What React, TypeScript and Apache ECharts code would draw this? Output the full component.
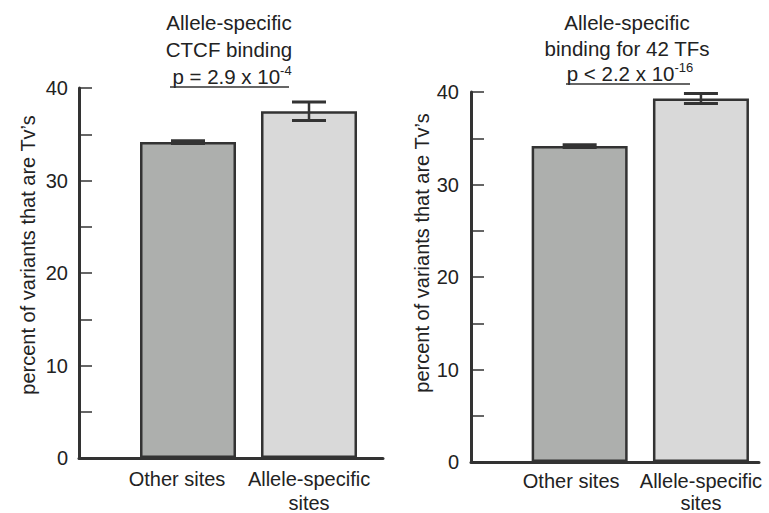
import React, { useEffect, useRef } from "react";
import * as echarts from "echarts";

const categories = ["Other sites", "Allele-specific\nsites"];
const ctcfValues = [34.15, 37.5];
const ctcfErrors = [0.15, 1.0];
const tfValues = [34.15, 39.3];
const tfErrors = [0.15, 0.55];
const barColors = ["#adafad", "#d9d9d9"];
const yMin = 0;
const yMax = 40;
const yInterval = 5;
const yAxisTitle = "percent of variants that are Tv\u2019s";
const leftTitle = ["Allele-specific", "CTCF binding"];
const leftP = ["p = 2.9 x 10", "-4"];
const rightTitle = ["Allele-specific", "binding for 42 TFs"];
const rightP = ["p < 2.2 x 10", "-16"];

const FONT = "'Liberation Sans', Arial, Helvetica, sans-serif";
const TXT = "#222";
const LINE = "#333";

function errorRender(params: any, api: any) {
  const x = api.value(0);
  const v = api.value(1);
  const e = api.value(2);
  const top = api.coord([x, v + e]);
  const bot = api.coord([x, v - e]);
  const hw = 17;
  return {
    type: "group",
    children: [
      { type: "line", shape: { x1: top[0], y1: top[1], x2: bot[0], y2: bot[1] }, style: { stroke: LINE, lineWidth: 2.5 } },
      { type: "line", shape: { x1: top[0] - hw, y1: top[1], x2: top[0] + hw, y2: top[1] }, style: { stroke: LINE, lineWidth: 3 } },
      { type: "line", shape: { x1: bot[0] - hw, y1: bot[1], x2: bot[0] + hw, y2: bot[1] }, style: { stroke: LINE, lineWidth: 3 } },
    ],
  };
}

function frameAxes(gridIndex: number, labelMargin: number) {
  const xAxis = {
    type: "value",
    gridIndex,
    min: 0,
    max: 1,
    axisLine: { show: true, lineStyle: { color: LINE, width: 3 } },
    axisTick: { show: false },
    axisLabel: { show: false },
    splitLine: { show: false },
  };
  const yAxis = {
    type: "value",
    gridIndex,
    min: yMin,
    max: yMax,
    interval: yInterval,
    axisLine: { show: true, lineStyle: { color: LINE, width: 3 } },
    axisTick: { show: true, inside: true, length: 13, lineStyle: { color: LINE, width: 1.5 } },
    axisLabel: {
      margin: labelMargin,
      fontFamily: FONT,
      fontSize: 20,
      color: TXT,
      formatter: (v: number) => (v % 10 === 0 ? String(v) : ""),
    },
    splitLine: { show: false },
  };
  return { xAxis, yAxis };
}

function barAxes(gridIndex: number, otherPad: number, margin: number, lineHeight: number) {
  const xAxis = {
    type: "category",
    gridIndex,
    data: [
      { value: categories[0], textStyle: { padding: [0, otherPad, 0, 0] } },
      categories[1],
    ],
    axisLine: { show: false },
    axisTick: { show: false },
    axisLabel: { margin, fontFamily: FONT, fontSize: 20, color: TXT, lineHeight, interval: 0 },
    splitLine: { show: false },
  };
  const yAxis = {
    type: "value",
    gridIndex,
    min: yMin,
    max: yMax,
    show: false,
  };
  return { xAxis, yAxis };
}

function titleTexts(lines: string[], p: string[], cx: number, ys: number[]) {
  const out: any[] = lines.map((t, i) => ({
    type: "text",
    x: cx,
    y: ys[i],
    style: { text: t, align: "center", verticalAlign: "middle", fontFamily: FONT, fontSize: 20.5, fill: TXT },
  }));
  out.push({
    type: "text",
    x: cx + 3,
    y: ys[2],
    style: {
      text: `{a|${p[0]}}{s|${p[1]}}`,
      align: "center",
      verticalAlign: "middle",
      rich: {
        a: { fontFamily: FONT, fontSize: 20.5, fill: TXT, color: TXT, lineHeight: 24 },
        s: { fontFamily: FONT, fontSize: 13, fill: TXT, color: TXT, lineHeight: 14, verticalAlign: "top" },
      },
    },
  });
  return out;
}

function axisTitle(x: number, y: number) {
  return {
    type: "text",
    x,
    y,
    rotation: Math.PI / 2,
    style: { text: yAxisTitle, align: "center", verticalAlign: "middle", fontFamily: FONT, fontSize: 20, fill: TXT },
  };
}

export default function App() {
  const ref = useRef<HTMLDivElement>(null);
  useEffect(() => {
    if (!ref.current) return;
    const chart = echarts.init(ref.current, null, { renderer: "svg" });
    const fl = frameAxes(0, 11);
    const bl = barAxes(1, 22, 9, 24);
    const fr = frameAxes(2, 12);
    const br = barAxes(3, 17, 8, 22);
    const g = { outerBoundsMode: "none", containLabel: false };
    const option: any = {
      animation: false,
      backgroundColor: "#fff",
      grid: [
        { ...g, left: 79, top: 88, width: 304, height: 370 },
        { ...g, left: 127.5, top: 88, width: 242, height: 370 },
        { ...g, left: 471, top: 92, width: 288, height: 370 },
        { ...g, left: 519, top: 92, width: 242.6, height: 370 },
      ],
      xAxis: [fl.xAxis, bl.xAxis, fr.xAxis, br.xAxis],
      yAxis: [fl.yAxis, bl.yAxis, fr.yAxis, br.yAxis],
      series: [
        {
          type: "bar",
          xAxisIndex: 1,
          yAxisIndex: 1,
          barWidth: 96,
          data: ctcfValues.map((v, i) => ({ value: v, itemStyle: { color: barColors[i] } })),
          itemStyle: { borderColor: LINE, borderWidth: 2.5 },
        },
        {
          type: "custom",
          xAxisIndex: 1,
          yAxisIndex: 1,
          z: 5,
          renderItem: errorRender,
          data: ctcfValues.map((v, i) => [i, v, ctcfErrors[i]]),
        },
        {
          type: "bar",
          xAxisIndex: 3,
          yAxisIndex: 3,
          barWidth: 96,
          data: tfValues.map((v, i) => ({ value: v, itemStyle: { color: barColors[i] } })),
          itemStyle: { borderColor: LINE, borderWidth: 2.5 },
        },
        {
          type: "custom",
          xAxisIndex: 3,
          yAxisIndex: 3,
          z: 5,
          renderItem: errorRender,
          data: tfValues.map((v, i) => [i, v, tfErrors[i]]),
        },
      ],
      graphic: [
        ...titleTexts(leftTitle, leftP, 229, [22, 49, 76]),
        { type: "line", shape: { x1: 170, y1: 87, x2: 289, y2: 87 }, style: { stroke: LINE, lineWidth: 1.5 } },
        ...titleTexts(rightTitle, rightP, 627, [22, 48, 73]),
        { type: "line", shape: { x1: 566, y1: 84, x2: 690, y2: 84 }, style: { stroke: LINE, lineWidth: 1.5 } },
        axisTitle(28, 255),
        axisTitle(422, 253),
      ],
    };
    chart.setOption(option);
    return () => chart.dispose();
  }, []);
  return <div ref={ref} style={{ position: "absolute", left: 0, top: 0, width: 769, height: 513 }} />;
}
